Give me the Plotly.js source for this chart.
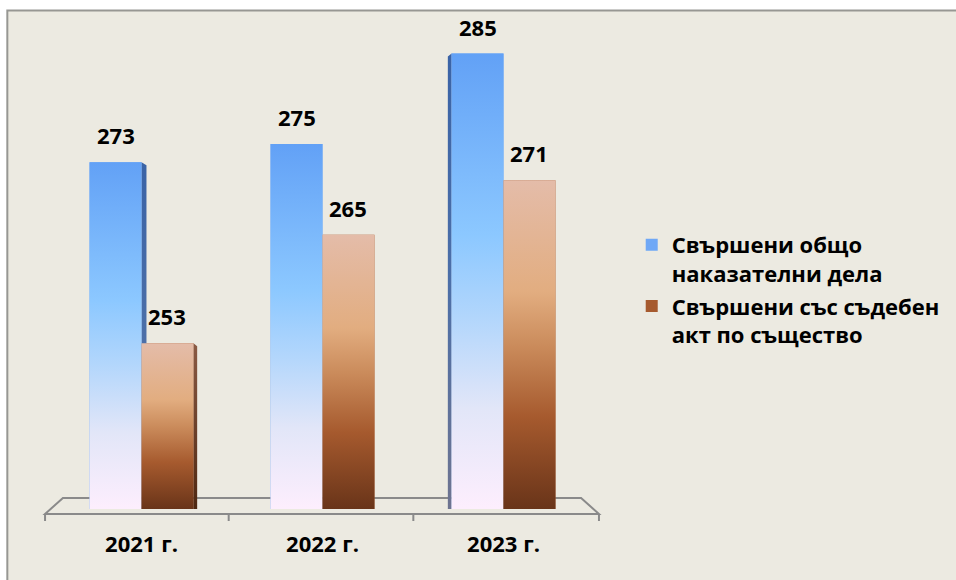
<!DOCTYPE html>
<html>
<head>
<meta charset="utf-8">
<script src="https://cdn.plot.ly/plotly-3.0.1.min.js"></script>
<style>html,body{margin:0;padding:0;background:#fff;}#chart{width:956px;height:580px;}</style>
</head>
<body>
<div id="chart"></div>
<script>
// ---- data ----
const categories = ['2021 г.', '2022 г.', '2023 г.'];
const seriesNames = ['Свършени общо<br>наказателни дела', 'Свършени със съдебен<br>акт по същество'];
const totalCases = [273, 275, 285];
const judicialActs = [253, 265, 271];

// ---- styling ----
const YMIN = 234.7, YMAX = 289.7;
const BAR_W = 0.287;
const FONT = '"Open Sans", "Noto Sans", "DejaVu Sans", sans-serif';
const blueScale = [[0, '#FDEEFD'], [0.22, '#E2E6F8'], [0.42, '#B2D6FC'], [0.6, '#8CC8FF'], [1, '#62A1F6']];
const brownScale = [[0, '#693419'], [0.28, '#A65A2E'], [0.5, '#CB8C5C'], [0.66, '#E2AD80'], [1, '#E4BCA9']];
const blueSide = [[0, '#6E7490'], [0.5, '#4C6FA8'], [1, '#3A63A6']];
const brownSide = [[0, '#4E2812'], [1, '#8A5A44']];

// pixel helpers (plot area: l=51, w=547, t=11, h=498)
const L = 51, W = 547, B = 509, H = 498;
const PX_PER_X = W / 3, PX_PER_Y = H / (YMAX - YMIN);
const px = x => (x - L) / W;
const py = y => (B - y) / H;

const xs = categories.map((c, i) => i);
const series = [
  {name: seriesNames[0], values: totalCases, offset: -BAR_W, solid: '#6FA8F6', scale: blueScale, side: blueSide},
  {name: seriesNames[1], values: judicialActs, offset: 0, solid: '#A65A2E', scale: brownScale, side: brownSide}
];

const traces = [];
series.forEach((s, k) => {
  traces.push({
    type: 'bar', x: xs, y: s.values, name: s.name,
    offset: s.offset, width: BAR_W,
    marker: {color: s.solid, line: {width: 0}},
    legendgroup: 'g' + k, hoverinfo: 'y'
  });
});
// perspective side faces (drawn first, so the fronts cover them)
const VIEW_X = 1;           // viewpoint above the middle category
const DEPTH = 0.024;        // side width in px per px of distance from viewpoint
const TOP_DROP = 3 / PX_PER_Y;
series.forEach(s => {
  s.values.forEach((v, i) => {
    const x0 = xs[i] + s.offset, x1 = x0 + BAR_W;
    const cx = (x0 + x1) / 2;
    const distPx = (cx - VIEW_X) * PX_PER_X;
    if (Math.abs(distPx) < 60) return;
    const d = Math.abs(distPx) * DEPTH / PX_PER_X;
    const edge = distPx < 0 ? x1 : x0;
    const outer = distPx < 0 ? x1 + d : x0 - d;
    traces.push({
      type: 'scatter', mode: 'lines',
      x: [edge, outer, outer, edge, edge], y: [YMIN, YMIN, v - TOP_DROP, v, YMIN],
      fill: 'toself', line: {width: 0, color: 'rgba(0,0,0,0)'},
      fillgradient: {type: 'vertical', colorscale: s.side},
      showlegend: false, hoverinfo: 'skip'
    });
  });
});
// gradient fronts drawn over the bars, one per bar
series.forEach(s => {
  s.values.forEach((v, i) => {
    const x0 = xs[i] + s.offset, x1 = x0 + BAR_W;
    traces.push({
      type: 'scatter', mode: 'lines',
      x: [x0, x1, x1, x0, x0], y: [YMIN, YMIN, v, v, YMIN],
      fill: 'toself', line: {width: 0, color: 'rgba(0,0,0,0)'},
      fillgradient: {type: 'vertical', colorscale: s.scale},
      showlegend: false, hoverinfo: 'skip'
    });
  });
});

const annotations = [];
series.forEach(s => {
  s.values.forEach((v, i) => {
    annotations.push({
      x: xs[i] + s.offset + BAR_W / 2, y: v, xref: 'x', yref: 'y',
      text: String(v), showarrow: false, yanchor: 'middle', yshift: 27,
      font: {family: FONT, size: 22, color: '#000', weight: 'bold'}
    });
  });
});

const shapes = [
  {type: 'rect', xref: 'paper', yref: 'paper', layer: 'below',
   x0: px(7), x1: px(975), y0: py(600), y1: py(10.5),
   fillcolor: '#ECEAE1', line: {color: '#979793', width: 2}},
  {type: 'path', xref: 'paper', yref: 'paper', layer: 'below',
   path: `M ${px(63)} ${py(498)} L ${px(585)} ${py(498)} L ${px(603)} ${py(514)} L ${px(45)} ${py(514)} Z`,
   line: {color: '#8A8A8A', width: 2}}
];
[45, 230, 416, 603].forEach(t => shapes.push({
  type: 'line', xref: 'paper', yref: 'paper', layer: 'below',
  x0: px(t), x1: px(t), y0: py(514), y1: py(521), line: {color: '#8A8A8A', width: 2}
}));

const layout = {
  width: 956, height: 580,
  margin: {l: L, r: 956 - L - W, t: 11, b: 580 - B},
  paper_bgcolor: '#FFFFFF', plot_bgcolor: 'rgba(0,0,0,0)',
  barmode: 'overlay',
  showlegend: true,
  font: {family: FONT, color: '#000'},
  xaxis: {range: [-0.5, 2.5], tickvals: xs, ticktext: categories, showgrid: false, zeroline: false,
          showline: false, ticks: '', ticklabelstandoff: 20,
          tickfont: {family: FONT, size: 22, color: '#000', weight: 'bold'}, fixedrange: true},
  yaxis: {range: [YMIN, YMAX], visible: false, showgrid: false, zeroline: false, fixedrange: true},
  legend: {x: px(636), xanchor: 'left', y: py(224), yanchor: 'top', valign: 'top',
           bgcolor: 'rgba(0,0,0,0)', tracegroupgap: 1,
           font: {family: FONT, size: 22, color: '#000', weight: 'bold'}},
  shapes: shapes, annotations: annotations
};

Plotly.newPlot('chart', traces, layout, {displayModeBar: false, staticPlot: true});
</script>
</body>
</html>
